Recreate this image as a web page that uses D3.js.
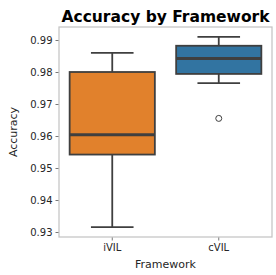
<!DOCTYPE html>
<html>
<head>
<meta charset="utf-8">
<script src="https://cdn.jsdelivr.net/npm/d3@7"></script>
<style>
body { margin: 0; background: white; }
svg text { font-family: "DejaVu Sans", sans-serif; fill: #262626; }
</style>
</head>
<body>
<div id="chart"></div>
<script>

let frameworks = ["iVIL", "cVIL"]
let whisker_low = [0.9315, 0.9765]
let q1 = [0.9542, 0.9794]
let medians = [0.9604, 0.9842]
let q3 = [0.9800, 0.9882]
let whisker_high = [0.9860, 0.9910]
let outliers = [[], [0.9655]]
let box_colors = ["#e1812c", "#3274a1"]
let y_ticks = [0.93, 0.94, 0.95, 0.96, 0.97, 0.98, 0.99]

let width = 276, height = 275
let m_left = 59, m_right = 272, m_top = 27, m_bottom = 237
let line_color = '#3f3f3f'

let svg = d3.select('#chart').append('svg')
.attr('width', width)
.attr('height', height)

let y = d3.scaleLinear()
.domain([0.93, 0.99])
.range([232, 40])

let x = d3.scaleBand()
.domain(frameworks)
.range([m_left, m_right])
.padding(0)

let box_w = x.bandwidth() * 0.8
let cap_w = box_w / 2

// axes
svg.append('g')
.attr('transform', `translate(${m_left},0)`)
.call(d3.axisLeft(y).tickValues(y_ticks).tickFormat(d3.format('.2f')).tickSize(3.5).tickPadding(3))

svg.append('g')
.attr('transform', `translate(0,${m_bottom})`)
.call(d3.axisBottom(x).tickSize(3.5).tickPadding(3))

svg.selectAll('.domain').remove()
svg.selectAll('.tick line').attr('stroke', '#555').attr('stroke-width', 0.8)
svg.selectAll('.tick text').style('font-size', '10px').attr('fill', '#262626')

// frame
svg.append('rect')
.attr('x', m_left)
.attr('y', m_top)
.attr('width', m_right - m_left)
.attr('height', m_bottom - m_top)
.attr('fill', 'none')
.attr('stroke', '#c4c4c4')
.attr('stroke-width', 1.25)

// boxes
frameworks.forEach((f, i) => {

let cx = x(f) + x.bandwidth() / 2
let g = svg.append('g')

g.append('line')
.attr('x1', cx).attr('x2', cx)
.attr('y1', y(q3[i])).attr('y2', y(whisker_high[i]))
.attr('stroke', line_color).attr('stroke-width', 1.8)

g.append('line')
.attr('x1', cx).attr('x2', cx)
.attr('y1', y(q1[i])).attr('y2', y(whisker_low[i]))
.attr('stroke', line_color).attr('stroke-width', 1.8)

g.append('line')
.attr('x1', cx - cap_w / 2).attr('x2', cx + cap_w / 2)
.attr('y1', y(whisker_high[i])).attr('y2', y(whisker_high[i]))
.attr('stroke', line_color).attr('stroke-width', 1.8)

g.append('line')
.attr('x1', cx - cap_w / 2).attr('x2', cx + cap_w / 2)
.attr('y1', y(whisker_low[i])).attr('y2', y(whisker_low[i]))
.attr('stroke', line_color).attr('stroke-width', 1.8)

g.append('rect')
.attr('x', cx - box_w / 2)
.attr('y', y(q3[i]))
.attr('width', box_w)
.attr('height', y(q1[i]) - y(q3[i]))
.attr('fill', box_colors[i])
.attr('stroke', line_color)
.attr('stroke-width', 1.8)

g.append('line')
.attr('x1', cx - box_w / 2).attr('x2', cx + box_w / 2)
.attr('y1', y(medians[i])).attr('y2', y(medians[i]))
.attr('stroke', line_color).attr('stroke-width', 3)

g.selectAll('circle')
.data(outliers[i])
.enter()
.append('circle')
.attr('cx', cx)
.attr('cy', d => y(d))
.attr('r', 3)
.attr('fill', 'none')
.attr('stroke', line_color)
.attr('stroke-width', 1)

})

// labels
svg.append('text')
.attr('x', (m_left + m_right) / 2)
.attr('y', 21.5)
.attr('text-anchor', 'middle')
.style('font-size', '15.5px')
.style('font-weight', 'bold')
.style('fill', 'black')
.text('Accuracy by Framework')

svg.append('text')
.attr('x', (m_left + m_right) / 2)
.attr('y', 268)
.attr('text-anchor', 'middle')
.style('font-size', '11px')
.text('Framework')

svg.append('text')
.attr('transform', `translate(17,${(m_top + m_bottom) / 2}) rotate(-90)`)
.attr('text-anchor', 'middle')
.style('font-size', '11px')
.text('Accuracy')

</script>
</body>
</html>
